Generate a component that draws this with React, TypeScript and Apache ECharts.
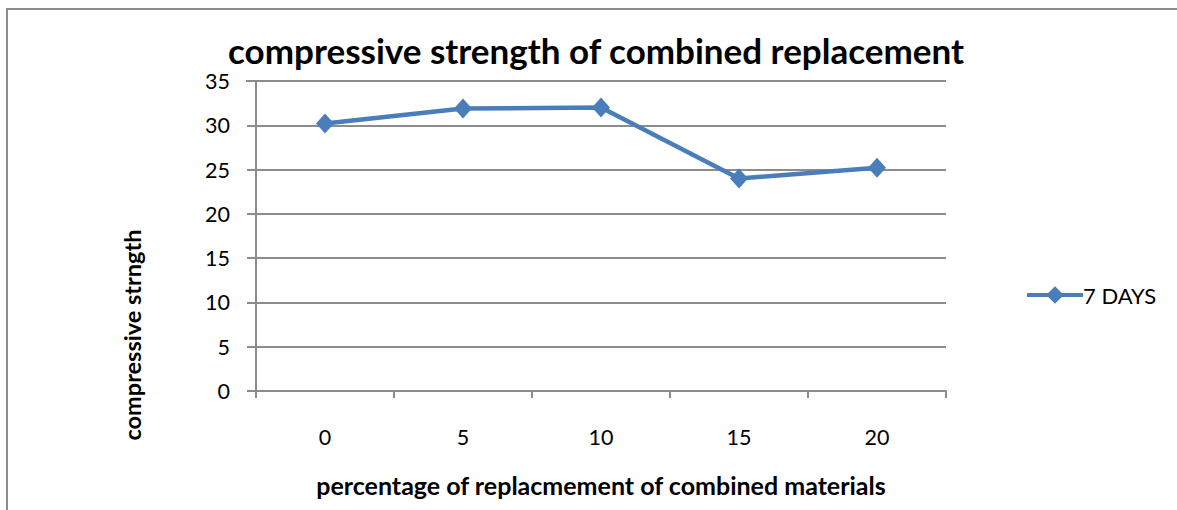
import React, { useEffect, useRef } from "react";
import * as echarts from "echarts";

const categories = ["0", "5", "10", "15", "20"];
const sevenDays = [30.2, 31.9, 32.0, 24.0, 25.2];
const seriesName = "7 DAYS";
const titleText = "compressive strength of combined replacement";
const xAxisName = "percentage of replacmement of combined materials";
const yAxisName = "compressive strngth";

const FONT = "Lato, 'Noto Sans', sans-serif";
const LINE_COLOR = "#4a7ebb";
const GRID_COLOR = "#8c8c8c";

export default function App() {
  const ref = useRef<HTMLDivElement>(null);
  useEffect(() => {
    if (!ref.current) return;
    const chart = echarts.init(ref.current, null, { renderer: "svg" });
    chart.setOption({
      animation: false,
      backgroundColor: "#ffffff",
      title: {
        text: titleText,
        left: 591,
        textAlign: "center",
        top: 27,
        textStyle: { fontFamily: FONT, fontWeight: "bold", fontSize: 35, color: "#000" },
      },
      legend: {
        data: [seriesName],
        left: 1020,
        top: 279,
        itemWidth: 56,
        itemHeight: 22,
        itemGap: 4,
        lineStyle: { width: 4, color: LINE_COLOR },
        textStyle: { fontFamily: FONT, fontSize: 22, color: "#000", padding: [0, 0, 0, -5] },
      },
      grid: { left: 256, top: 81, width: 690, height: 310, containLabel: false },
      xAxis: {
        type: "category",
        data: categories,
        boundaryGap: true,
        axisLine: { lineStyle: { color: GRID_COLOR, width: 2 } },
        axisTick: { show: true, interval: 0, length: 7, lineStyle: { color: GRID_COLOR, width: 2 } },
        axisLabel: { fontFamily: FONT, fontSize: 21.5, color: "#000", margin: 35 },
        name: xAxisName,
        nameLocation: "middle",
        nameGap: 81,
        nameTextStyle: { fontFamily: FONT, fontSize: 25, fontWeight: "bold", color: "#000" },
      },
      yAxis: {
        type: "value",
        min: 0,
        max: 35,
        interval: 5,
        axisLine: { show: true, lineStyle: { color: GRID_COLOR, width: 2 } },
        axisTick: { show: true, length: 9, lineStyle: { color: GRID_COLOR, width: 2 } },
        axisLabel: { fontFamily: FONT, fontSize: 21.5, color: "#000", margin: 26 },
        splitLine: { show: true, lineStyle: { color: GRID_COLOR, width: 2 } },
      },
      graphic: [
        {
          type: "rect",
          shape: { x: 7, y: 9, width: 1180, height: 520 },
          style: { fill: "none", stroke: "#8c8c8c", lineWidth: 2 },
          silent: true,
        },
        {
          type: "line",
          shape: { x1: 246, y1: 81, x2: 256, y2: 81 },
          style: { stroke: GRID_COLOR, lineWidth: 2 },
          silent: true,
        },
        {
          type: "text",
          x: 132,
          y: 335,
          rotation: Math.PI / 2,
          style: {
            text: yAxisName,
            fontFamily: FONT,
            fontSize: 23.5,
            fontWeight: "bold",
            fill: "#000",
            align: "center",
            verticalAlign: "middle",
          },
        },
      ],
      series: [
        {
          name: seriesName,
          type: "line",
          data: sevenDays,
          symbol: "diamond",
          symbolSize: [18, 20],
          lineStyle: { color: LINE_COLOR, width: 4.5 },
          itemStyle: { color: LINE_COLOR },
        },
      ],
    });
    return () => chart.dispose();
  }, []);
  return (
    <div
      ref={ref}
      style={{ position: "absolute", left: 0, top: 0, width: 1177, height: 510 }}
    />
  );
}
